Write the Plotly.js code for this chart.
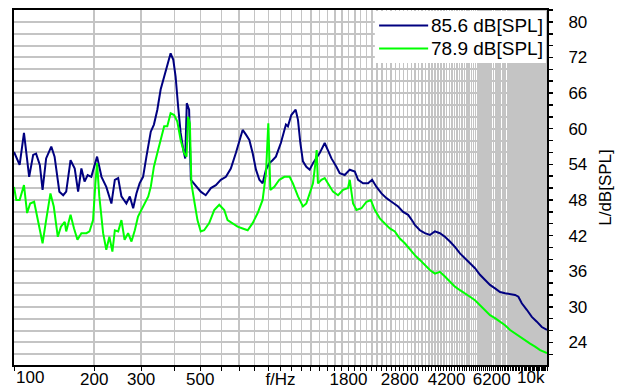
<!DOCTYPE html>
<html><head><meta charset="utf-8">
<script src="https://cdn.plot.ly/plotly-3.0.1.min.js"></script>
<style>html,body{margin:0;padding:0;background:#fff}#chart{width:624px;height:389px}</style>
</head><body><div id="chart"></div>
<script>
const seriesNames = ["85.6 dB[SPL]", "78.9 dB[SPL]"];
const seriesColors = ["#000080", "#00ff00"];
const freqNavy = [100,105,109,114,118,121,125,128,132,138,142,148,153,157,163,169,174,179,184,189,195,200,
205,213,222,232,239,246,253,264,272,280,288,296,305,314,326,335,345,355,366,376,387,396,404,413,422,432,439,445,454,461,474,488,502,524,548,572,597,624,651,680,706,721,742,764,786,809,833,857,882,908,934,961,1003,1048,
1066,1098,1140,1163,1187,1214,1250,1287,1324,1363,1403,1465,1508,1553,1621,1668,1742,1819,1900,1955,2041,2131,2207,2292,2393,2499,2610,2763,2885,3013,3146,
3192,3334,3481,3635,3796,3964,4140,4323,4514,4714,4922,5140,5368,5605,5853,6112,6383,6665,6960,7268,7590,7810,8043,8399,8771,9159,9560,10000];
const splNavy = [56.1,53.9,59.3,51.9,55.6,55.8,53.9,49.7,55.0,57.0,55.3,49.4,48.8,49.4,54.7,53.3,49.4,53.3,51.1,52.2,51.9,53.6,
55.3,51.9,50.2,47.4,51.4,51.7,48.6,47.4,48.6,46.6,49.1,50.8,51.9,55.3,59.5,60.7,63.2,66.6,68.8,70.8,72.7,71.6,68.8,63.7,59.3,56.4,55.0,64.3,63.2,51.4,50.8,50.2,49.4,48.8,50.0,50.5,51.4,51.9,53.3,55.9,58.7,59.8,59.0,58.1,55.9,53.1,51.4,50.8,53.1,54.2,54.7,55.3,57.6,60.7,
60.4,62.3,63.2,61.5,57.6,54.5,53.6,53.1,54.2,55.0,55.9,57.6,56.4,55.0,53.6,52.5,52.2,53.1,52.8,51.4,50.8,50.8,51.4,50.2,49.1,48.3,47.7,46.9,46.0,45.5,44.3,
43.8,42.9,42.4,42.1,42.7,42.4,41.8,41.0,40.1,39.0,38.2,37.3,36.5,35.4,34.5,33.7,33.1,32.5,32.3,32.2,32.0,31.7,30.6,29.5,28.3,27.5,26.6,26.1];
const freqGreen = [100,102,105,109,112,115,119,123,128,132,137,141,146,150,155,157,163,168,173,179,187,192,198,202,205,209,216,222,228,234,239,246,253,260,268,276,284,292,305,319,326,
335,345,355,366,376,387,399,410,422,435,444,450,457,463,474,488,502,517,540,564,589,615,633,661,690,721,753,786,821,857,882,900,916,948,990,1034,
1082,1113,1163,1214,1250,1287,1324,1352,1367,1382,1424,1465,1508,1574,1644,1717,1792,1819,1872,1928,2013,2102,2182,2259,2358,2462,2571,2685,2804,2928,3057,
3192,3334,3481,3635,3796,3964,4140,4323,4514,4714,4922,5140,5368,5605,5853,6112,6383,6665,6960,7268,7590,7925,8276,8642,9023,9421,10000];
const splGreen = [50.2,48.0,48.0,50.5,45.8,47.4,47.7,44.6,40.7,44.6,49.1,46.9,41.8,43.5,44.3,42.7,45.5,43.2,41.3,42.4,42.4,42.7,44.6,50.8,54.2,48.6,42.4,39.6,41.8,39.3,42.9,42.7,44.6,41.3,42.4,41.0,42.9,45.2,46.9,48.6,50.2,
53.6,55.9,58.1,60.4,60.4,62.6,62.3,61.2,58.1,55.9,55.3,62.0,60.9,50.8,48.0,44.6,42.7,42.9,44.1,46.3,47.2,46.3,44.6,44.1,43.5,43.2,42.9,44.1,45.8,48.0,52.5,60.9,49.7,50.2,51.4,51.9,
51.9,50.8,48.6,46.9,47.4,49.1,50.8,54.2,56.4,50.8,51.4,51.7,50.8,49.4,48.8,49.7,50.0,51.4,47.4,46.3,46.6,47.7,48.0,46.3,44.9,44.1,43.2,42.7,41.5,40.7,39.6,
38.7,37.9,37.0,36.2,35.6,35.9,35.1,34.2,33.4,32.8,32.3,31.7,31.1,30.3,29.5,28.6,28.1,27.5,26.9,26.1,25.5,25.0,24.4,23.8,23.3,22.7,22.2];

const xLabelVals = [100,200,300,500,1000,1800,2800,4200,6200,10000];
const xLabelText = ["100","200","300","500","f/Hz","1800","2800","4200","6200","10k"];
const yLabelVals = [24,30,36,42,48,54,60,66,72,78];
const yLabelText = ["24","30","36","42","48","54","60","66","72","80"];

const FONT = "Liberation Sans, Arial, sans-serif";
const GRID = "#c4c4c4";

// grid/tick positions: every 100 Hz, every 2 dB
const xGrid = []; for (let f = 100; f <= 10000; f += 100) xGrid.push(f);
const xGridText = xGrid.map(f => {
  const i = xLabelVals.indexOf(f);
  if (i <= 0 || i === xLabelVals.length - 1) return "";
  return xLabelText[i];
});
const yGrid = []; for (let v = 22; v <= 80; v += 2) yGrid.push(v);
const yGridText = yGrid.map(v => { const i = yLabelVals.indexOf(v); return i < 0 ? "" : yLabelText[i]; });

const traces = [
  {x: freqNavy, y: splNavy, type: "scatter", mode: "lines", name: seriesNames[0],
   line: {color: seriesColors[0], width: 2}, showlegend: false},
  {x: freqGreen, y: splGreen, type: "scatter", mode: "lines", name: seriesNames[1],
   line: {color: seriesColors[1], width: 2}, showlegend: false}
];

// manual legend box (paper coordinates)
const legBottom = 0.851, legLeft = 0.677;
const rowY = [0.956, 0.8915];
const shapes = [
  {type: "rect", xref: "paper", yref: "paper", x0: legLeft, x1: 0.998, y0: legBottom, y1: 0.997,
   fillcolor: "#fff", line: {width: 0}, layer: "above"}
];
const annotations = [
  {text: xLabelText[0], xref: "paper", yref: "paper", x: 0, y: 0, xanchor: "left", yanchor: "top",
   yshift: -1, showarrow: false, font: {family: FONT, size: 17, color: "#000"}},
  {text: xLabelText[xLabelText.length - 1], xref: "paper", yref: "paper", x: 1, y: 0, xanchor: "right", yanchor: "top",
   yshift: -1, showarrow: false, font: {family: FONT, size: 17, color: "#000"}}
];
seriesNames.forEach((nm, i) => {
  shapes.push({type: "line", xref: "paper", yref: "paper", x0: 0.685, x1: 0.777, y0: rowY[i], y1: rowY[i],
    line: {color: seriesColors[i], width: 2}, layer: "above"});
  annotations.push({text: nm, xref: "paper", yref: "paper", x: 0.997, y: rowY[i], xanchor: "right", yanchor: "middle",
    showarrow: false, font: {family: FONT, size: 19, color: "#000"}});
});

const layout = {
  width: 624, height: 389,
  margin: {l: 14, r: 77, t: 10, b: 24},
  paper_bgcolor: "#fff", plot_bgcolor: "#fff",
  font: {family: FONT, size: 17, color: "#000"},
  showlegend: false,
  xaxis: {type: "log", range: [2, 4], tickmode: "array", tickvals: xGrid, ticktext: xGridText,
    tickangle: 0,
    showgrid: true, gridcolor: GRID, gridwidth: 1.5, zeroline: false,
    ticks: "outside", ticklen: 4, tickwidth: 1, tickcolor: "#000",
    showline: true, mirror: true, linecolor: "#000", linewidth: 2,
    ticklabelstandoff: -6,
    tickfont: {family: FONT, size: 17, color: "#000"}, automargin: false},
  yaxis: {range: [20.2, 80], side: "right", tickmode: "array", tickvals: yGrid, ticktext: yGridText,
    showgrid: true, gridcolor: GRID, gridwidth: 2, zeroline: false,
    ticks: "outside", ticklen: 4, tickwidth: 1.5, tickcolor: "#000",
    showline: true, mirror: true, linecolor: "#000", linewidth: 2,
    ticklabelstandoff: 12,
    tickfont: {family: FONT, size: 17, color: "#000"},
    title: {text: "L/dB[SPL]", font: {family: FONT, size: 17, color: "#000"}, standoff: 13},
    automargin: false},
  shapes: shapes,
  annotations: annotations
};

Plotly.newPlot("chart", traces, layout, {displayModeBar: false, staticPlot: true});
</script></body></html>
